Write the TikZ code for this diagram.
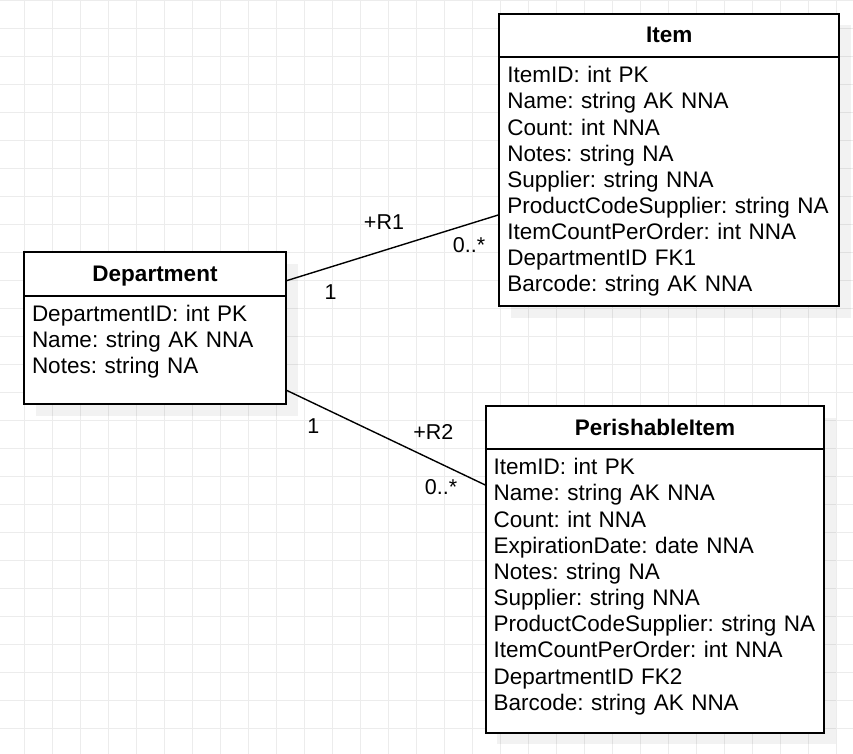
\documentclass[tikz,border=0pt]{standalone}
\usepackage{fontspec}
\setmainfont{Liberation Sans}
\frenchspacing
\usetikzlibrary{positioning, backgrounds}

\begin{document}
\begin{tikzpicture}[x=1pt, y=-1pt,
    entity/.style={draw, fill=white, line width=1.9pt, inner sep=0pt, outer sep=0pt, anchor=north west},
    headbox/.style={entity, font=\bfseries\fontsize{22.5}{26.15}\selectfont, text height=29pt, text depth=#1},
    bodybox/.style={entity, align=left, inner xsep=8pt, font=\frenchspacing\fontsize{22.5}{26.15}\selectfont, text height=25.5pt},
    relline/.style={line width=1.4pt},
    rellabel/.style={font=\fontsize{21.5}{24}\selectfont, inner sep=0pt},
    gridline/.style={draw=gray!15, line width=1pt},
    shadowfill/.style={fill=black, opacity=0.05}]
            \useasboundingbox (0,0) rectangle (853,754);

            \node[headbox=15pt, minimum width=262pt] (depthead) at (24,252) {Department};
            \node[bodybox, below=0pt of depthead, text width=246pt, text depth=82.5pt] (deptbody)
                {DepartmentID: int PK\\ Name: string AK NNA\\ Notes: string NA};

            \node[headbox=14.3pt, minimum width=339.7pt] (itemhead) at (499.3,14) {Item};
            \node[bodybox, below=0pt of itemhead, text width=323.7pt, text depth=223.2pt] (itembody)
                {ItemID: int PK\\ Name: string AK NNA\\ Count: int NNA\\ Notes: string NA\\
                 Supplier: string NNA\\ ProductCodeSupplier: string NA\\ ItemCountPerOrder: int NNA\\
                 DepartmentID FK1\\ Barcode: string AK NNA};

            \node[headbox=14.3pt, minimum width=338.6pt] (perhead) at (485.7,406) {PerishableItem};
            \node[bodybox, below=0pt of perhead, text width=322.6pt, text depth=257.9pt] (perbody)
                {ItemID: int PK\\ Name: string AK NNA\\ Count: int NNA\\ ExpirationDate: date NNA\\
                 Notes: string NA\\ Supplier: string NNA\\ ProductCodeSupplier: string NA\\
                 ItemCountPerOrder: int NNA\\ DepartmentID FK2\\ Barcode: string AK NNA};

            % grid and shadows
            \begin{scope}[on background layer]
                \fill[white] (0,0) rectangle (853,754);
                \foreach \i in {0,...,29} \draw[gridline] ({24.3+28*\i},0) -- ({24.3+28*\i},754);
                \foreach \j in {0,...,26} \draw[gridline] (0,{0.3+28*\j}) -- (853,{0.3+28*\j});
                \foreach \e in {dept,item,per}
                    \fill[shadowfill] ([shift={(11.5,11.5)}]\e head.north west) rectangle ([shift={(11.5,11.5)}]\e body.south east);
            \end{scope}

            \draw[relline](depthead.-3.8) -- (itembody.191.1);
            \draw[relline](deptbody.-17.7) -- (perbody.148.2);

            \node[rellabel] (r1name) at (384,222.3) {+R1};
            \node[rellabel] (r1one) at (330.7,291.7) {1};
            \node[rellabel] (r1many) at (469,245) {0..*};
            \node[rellabel] (r2one) at (313.3,425.8) {1};
            \node[rellabel] (r2name) at (433.3,431.8) {+R2};
            \node[rellabel] (r2many) at (441,487) {0..*};
\end{tikzpicture}
\end{document}
